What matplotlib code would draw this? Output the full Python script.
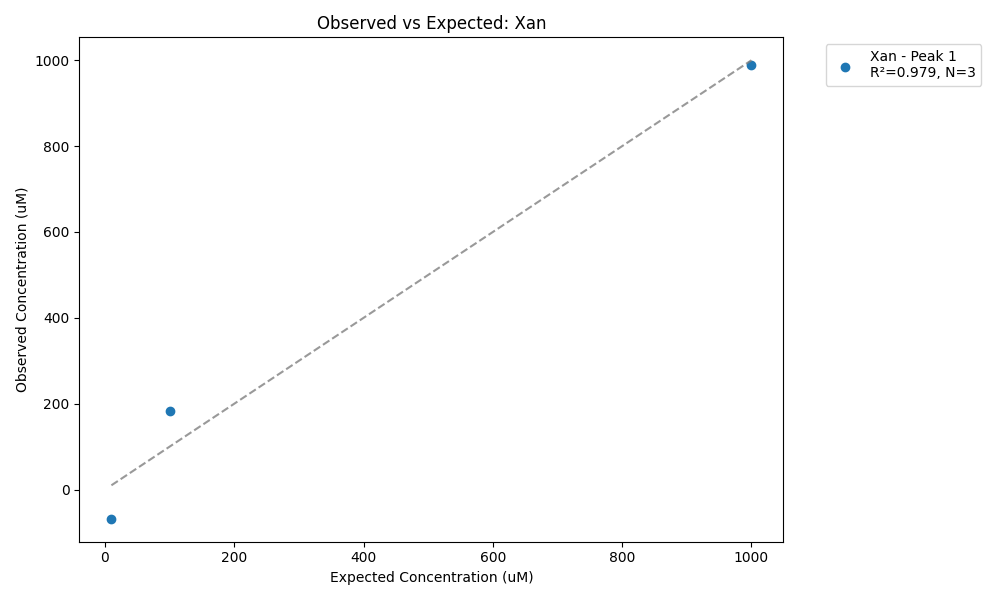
import numpy as np
import matplotlib.pyplot as plt

expected = [10, 100, 1000]
observed = [-68, 184, 990]
line_x = [10, 1000]

fig, ax = plt.subplots(figsize=(10, 6), dpi=100)
ax.scatter(expected, observed, label="Xan - Peak 1\nR²=0.979, N=3")
ax.plot(line_x, line_x, linestyle="--", color="gray", alpha=0.8)
ax.set_xlabel("Expected Concentration (uM)")
ax.set_ylabel("Observed Concentration (uM)")
ax.set_title("Observed vs Expected: Xan")
ax.legend(bbox_to_anchor=(1.05, 1), loc="upper left")
plt.tight_layout()
plt.savefig("out.png")
